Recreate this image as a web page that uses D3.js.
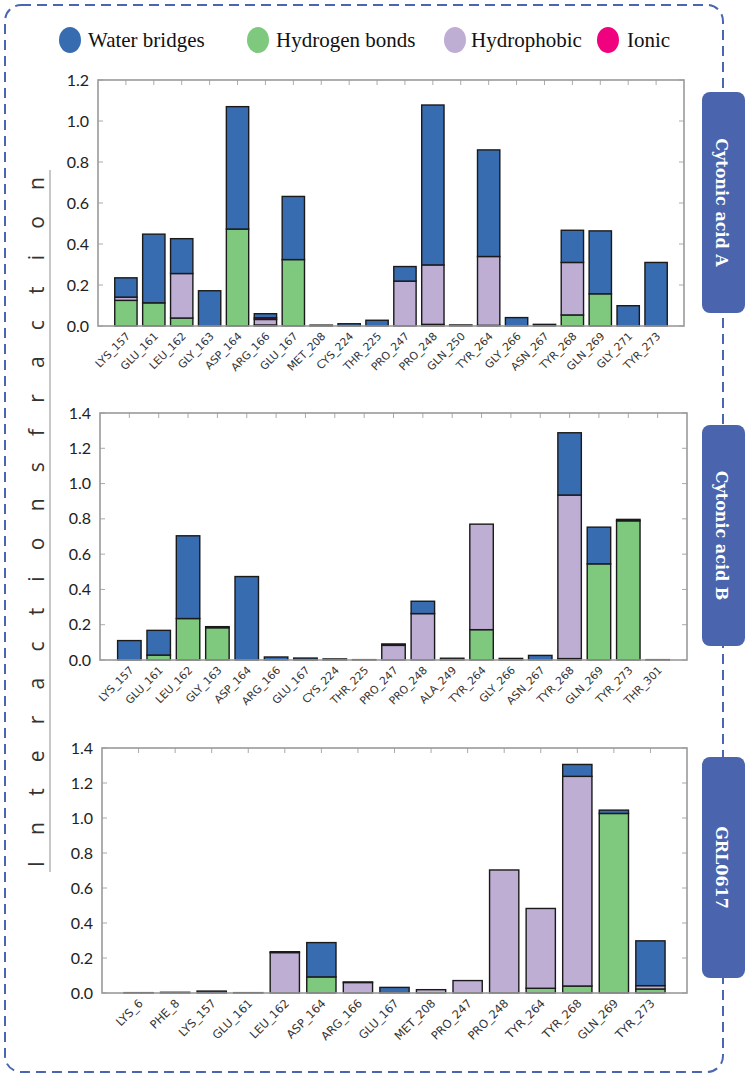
<!DOCTYPE html>
<html><head><meta charset="utf-8">
<script src="https://cdn.jsdelivr.net/npm/d3@7"></script>
<style>body{margin:0;background:#fff}svg{display:block}</style>
</head><body>
<svg id="c" width="749" height="1078"></svg>
<script>
// ---- data ----
const seriesKeys = ["hbond", "hydro", "ionic", "water"];
const seriesNames = ["Water bridges", "Hydrogen bonds", "Hydrophobic", "Ionic"];

const catsA = ["LYS_157","GLU_161","LEU_162","GLY_163","ASP_164","ARG_166","GLU_167","MET_208","CYS_224","THR_225","PRO_247","PRO_248","GLN_250","TYR_264","GLY_266","ASN_267","TYR_268","GLN_269","GLY_271","TYR_273"];
const hbondA = [0.125,0.113,0.039,0,0.473,0.005,0.324,0,0,0,0,0.008,0,0.003,0,0,0.054,0.157,0,0];
const hydroA = [0.016,0,0.217,0,0,0.027,0,0.002,0,0,0.219,0.290,0,0.336,0,0,0.256,0,0,0];
const ionicA = [0,0,0,0,0,0.008,0,0,0,0,0,0,0,0,0,0,0,0,0,0];
const waterA = [0.094,0.335,0.170,0.172,0.597,0.020,0.308,0.002,0.011,0.028,0.071,0.780,0.005,0.520,0.041,0.008,0.157,0.307,0.099,0.310];

const catsB = ["LYS_157","GLU_161","LEU_162","GLY_163","ASP_164","ARG_166","GLU_167","CYS_224","THR_225","PRO_247","PRO_248","ALA_249","TYR_264","GLY_266","ASN_267","TYR_268","GLN_269","TYR_273","THR_301"];
const hbondB = [0,0.028,0.235,0.183,0,0,0,0,0,0,0,0,0.172,0,0,0.008,0.545,0.789,0];
const hydroB = [0,0,0,0,0,0,0,0,0,0.083,0.263,0.010,0.598,0,0,0.927,0,0,0.002];
const ionicB = [0,0,0,0,0,0,0,0,0,0,0,0,0,0,0,0,0,0,0];
const waterB = [0.110,0.140,0.469,0.006,0.473,0.017,0.011,0.006,0.002,0.008,0.070,0,0,0.009,0.026,0.353,0.208,0.008,0];

const catsC = ["LYS_6","PHE_8","LYS_157","GLU_161","LEU_162","ASP_164","ARG_166","GLU_167","MET_208","PRO_247","PRO_248","TYR_264","TYR_268","GLN_269","TYR_273"];
const hbondC = [0,0,0,0,0,0.092,0,0,0,0,0,0.027,0.040,1.026,0.023];
const hydroC = [0.002,0.004,0,0.002,0.231,0,0.060,0,0.019,0.071,0.703,0.456,1.198,0,0.019];
const ionicC = [0,0,0,0,0,0,0,0,0,0,0,0,0,0,0,0,0,0,0];
const waterC = [0,0,0.011,0,0.005,0.196,0.003,0.032,0,0,0,0,0.068,0.019,0.256];

const yTicksA = [0,0.2,0.4,0.6,0.8,1.0,1.2];
const yTicksBC = [0,0.2,0.4,0.6,0.8,1.0,1.2,1.4];
const panelTitles = ["Cytonic acid A","Cytonic acid B","GRL0617"];
const yTitle = "I n t e r a c t i o n s   f r a c t i o n";

const colors = {water:"#386cb0", hbond:"#7fc97f", hydro:"#beaed4", ionic:"#f0027f"};

// ---- layout ----
const svg = d3.select("#c");
const boxColor = "#4a65ae";

// dashed outer border
svg.append("rect").attr("x",5).attr("y",5).attr("width",718).attr("height",1067)
  .attr("rx",16).attr("fill","none").attr("stroke","#4a66b0").attr("stroke-width",2)
  .attr("stroke-dasharray","10,6");

// legend
const legendItems = [
  {key:"water", name:seriesNames[0], cx:70, tx:88},
  {key:"hbond", name:seriesNames[1], cx:258, tx:276},
  {key:"hydro", name:seriesNames[2], cx:455, tx:471},
  {key:"ionic", name:seriesNames[3], cx:608, tx:627}
];
const lg = svg.append("g");
legendItems.forEach(d=>{
  lg.append("ellipse").attr("cx",d.cx).attr("cy",40).attr("rx",11).attr("ry",13).attr("fill",colors[d.key]);
  lg.append("text").attr("x",d.tx).attr("y",47).text(d.name)
    .attr("font-family","'Liberation Serif','DejaVu Serif',serif").attr("font-size",21).attr("fill","#111");
});

// y axis title
svg.append("line").attr("x1",50).attr("x2",50).attr("y1",170).attr("y2",872).attr("stroke","#b5b5b5").attr("stroke-width",1.5);
svg.append("text").attr("transform","translate(44,522) rotate(-90)")
  .attr("text-anchor","middle").attr("font-family","'Open Sans','Noto Sans',sans-serif")
  .attr("font-size",21).attr("fill","#333").attr("textLength",690).attr("lengthAdjust","spacing")
  .text(yTitle);

const panels = [
  {cats:catsA, hbond:hbondA, hydro:hydroA, ionic:ionicA, water:waterA, ymax:1.2, ticks:yTicksA, x0:98, x1:684, y0:80, y1:326, box:[92,313]},
  {cats:catsB, hbond:hbondB, hydro:hydroB, ionic:ionicB, water:waterB, ymax:1.4, ticks:yTicksBC, x0:100, x1:687, y0:413, y1:660, box:[425,646]},
  {cats:catsC, hbond:hbondC, hydro:hydroC, ionic:ionicC, water:waterC, ymax:1.4, ticks:yTicksBC, x0:102, x1:687, y0:748, y1:993, box:[757,978]}
];

panels.forEach((p,pi)=>{
  const g = svg.append("g");
  const n = p.cats.length;
  const x = d3.scaleLinear().domain([-1,n]).range([p.x0,p.x1]);
  const y = d3.scaleLinear().domain([0,p.ymax]).range([p.y1,p.y0]);
  const step = x(1)-x(0);
  const bw = 0.8*step;

  const rows = p.cats.map((c,i)=>({cat:c, i:i, hbond:p.hbond[i], hydro:p.hydro[i], ionic:p.ionic[i], water:p.water[i]}));
  const stack = d3.stack().keys(seriesKeys)(rows);

  // top ticks (inward) and right ticks
  g.append("g").selectAll("line").data(d3.range(n)).join("line")
    .attr("x1",i=>x(i)).attr("x2",i=>x(i)).attr("y1",p.y0).attr("y2",p.y0+5)
    .attr("stroke","#aaa").attr("stroke-width",1);
  g.append("g").selectAll("line").data(p.ticks).join("line")
    .attr("x1",p.x1-5).attr("x2",p.x1).attr("y1",d=>y(d)).attr("y2",d=>y(d))
    .attr("stroke","#aaa").attr("stroke-width",1);
  g.append("g").selectAll("line").data(p.ticks).join("line")
    .attr("x1",p.x0).attr("x2",p.x0+5).attr("y1",d=>y(d)).attr("y2",d=>y(d))
    .attr("stroke","#aaa").attr("stroke-width",1);

  // bars
  stack.forEach(s=>{
    g.append("g").selectAll("rect").data(s.filter(d=>d[1]-d[0]>0)).join("rect")
      .attr("x",d=>x(d.data.i)-bw/2).attr("width",bw)
      .attr("y",d=>y(d[1])).attr("height",d=>y(d[0])-y(d[1]))
      .attr("fill",colors[s.key]).attr("stroke","#1a1a1a").attr("stroke-width",1.4);
  });

  // frame
  g.append("rect").attr("x",p.x0).attr("y",p.y0).attr("width",p.x1-p.x0).attr("height",p.y1-p.y0)
    .attr("fill","none").attr("stroke","#9a9a9a").attr("stroke-width",1.6);

  // y labels
  g.append("g").selectAll("text").data(p.ticks).join("text")
    .attr("x",p.x0-9).attr("y",d=>y(d)+5.5).attr("text-anchor","end")
    .attr("font-family","Lato,'Open Sans',sans-serif").attr("font-size",16).attr("fill","#222")
    .text(d=>d3.format(".1f")(d));

  // x labels
  const fs = pi===2 ? 11.5 : 10.8;
  g.append("g").selectAll("text").data(p.cats).join("text")
    .attr("transform",(d,i)=>`translate(${x(i)+5},${p.y1+11}) rotate(-45)`)
    .attr("text-anchor","end").attr("font-family","'DejaVu Sans',sans-serif").attr("font-size",fs)
    .attr("fill","#333").text(d=>d);

  // side label box
  svg.append("rect").attr("x",702).attr("y",p.box[0]).attr("width",43).attr("height",p.box[1]-p.box[0])
    .attr("rx",8).attr("fill",boxColor);
  svg.append("text").attr("transform",`translate(716,${(p.box[0]+p.box[1])/2}) rotate(90)`)
    .attr("text-anchor","middle").attr("font-family","'DejaVu Serif','Liberation Serif',serif")
    .attr("font-weight","bold").attr("font-size",16).attr("fill","#fff").text(panelTitles[pi]);
});
</script>
</body></html>
